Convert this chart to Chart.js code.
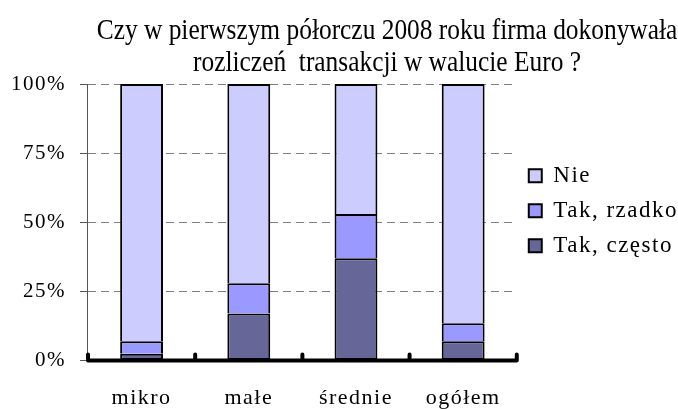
<!DOCTYPE html>
<html>
<head>
<meta charset="utf-8">
<script src="https://cdn.jsdelivr.net/npm/chart.js@4.4.1/dist/chart.umd.min.js"></script>
<style>
  html, body { margin: 0; padding: 0; background: #fff; }
  #wrap { width: 678px; height: 409px; }
</style>
</head>
<body>
<div id="wrap"><canvas id="chart" width="678" height="409"></canvas></div>
<script>
// data (percent of firms)
const categories = ["mikro", "małe", "średnie", "ogółem"];
const takCzesto = [2.5, 17, 37, 7];
const takRzadko = [4.5, 11, 16, 6.5];
const nie = [93, 72, 47, 86.5];
const yTicks = [0, 25, 50, 75, 100];
const titleLines = ["Czy w pierwszym półorczu 2008 roku firma dokonywała", "rozliczeń  transakcji w walucie Euro ?"];

const FONT = "'Liberation Serif', 'Times New Roman', serif";
Chart.defaults.font.family = FONT;
Chart.defaults.color = "#000";

// the original text is set a bit loose, so widen the letters on the canvas
const spacingPlugin = {
    id: "spacing",
    afterInit(chart) { chart.ctx.letterSpacing = "1.5px"; },
    beforeUpdate(chart) { chart.ctx.letterSpacing = "1.5px"; },
    beforeDraw(chart) { chart.ctx.letterSpacing = "1.5px"; }
};

// title: tall, slightly narrowed letters, centred right of the y axis
const titlePlugin = {
    id: "titleLines",
    afterDraw(chart) {
        const ctx = chart.ctx;
        const sx = 0.876;
        const cx = 387;
        ctx.save();
        ctx.letterSpacing = "0px";
        ctx.font = "29px " + FONT;
        ctx.fillStyle = "#000";
        ctx.textAlign = "center";
        ctx.textBaseline = "alphabetic";
        ctx.scale(sx, 1);
        titleLines.forEach((line, i) => ctx.fillText(line, cx / sx, 39 + i * 32));
        ctx.restore();
    }
};

// thick black base line with knobs at the category boundaries
const baseAxisPlugin = {
    id: "baseAxis",
    afterDatasetsDraw(chart) {
        const ctx = chart.ctx;
        const x = chart.scales.x;
        const y0 = chart.scales.y.getPixelForValue(0);
        const half = (x.getPixelForValue(1) - x.getPixelForValue(0)) / 2;
        ctx.save();
        ctx.strokeStyle = "#000";
        ctx.lineWidth = 4;
        ctx.lineCap = "round";
        ctx.beginPath();
        ctx.moveTo(chart.chartArea.left, y0);
        ctx.lineTo(chart.chartArea.right, y0);
        for (let i = 0; i <= categories.length; i++) {
            const px = x.getPixelForValue(0) - half + i * 2 * half;
            ctx.moveTo(px, y0);
            ctx.lineTo(px, y0 - 6);
        }
        ctx.stroke();
        ctx.restore();
    }
};

function bar(label, data, color, skip) {
    return {
        label: label,
        data: data,
        backgroundColor: color,
        borderColor: "#000",
        borderWidth: 2,
        borderSkipped: skip,
        barPercentage: 0.4,
        categoryPercentage: 1
    };
}

new Chart(document.getElementById("chart"), {
    type: "bar",
    data: {
        labels: categories,
        datasets: [
            bar("Tak, często", takCzesto, "#666699", false),
            bar("Tak, rzadko", takRzadko, "#9999FF", "start"),
            bar("Nie", nie, "#CCCCFF", "start")
        ]
    },
    options: {
        responsive: false,
        animation: false,
        layout: { padding: { top: 84, bottom: -26, left: -3, right: -10 } },
        scales: {
            x: {
                stacked: true,
                grid: { display: false, drawTicks: false },
                border: { display: false },
                ticks: { font: { size: 22 }, padding: 24 }
            },
            y: {
                stacked: true,
                min: 0,
                max: 100,
                afterBuildTicks(scale) { scale.ticks = yTicks.map(v => ({ value: v })); },
                grid: { color: "#808080", lineWidth: 1, tickLength: 8, tickColor: "#555" },
                border: { color: "#555", width: 1, dash: [8, 5] },
                ticks: { font: { size: 21 }, padding: 14, callback: v => v + "%" }
            }
        },
        plugins: {
            title: { display: false },
            tooltip: { enabled: false },
            legend: {
                position: "right",
                reverse: true,
                fullSize: false,
                align: "start",
                title: { display: true, text: " ", font: { size: 1 }, padding: { top: 0, bottom: 67 } },
                labels: { font: { size: 23 }, boxWidth: 13, boxHeight: 13, padding: 12 }
            }
        }
    },
    plugins: [spacingPlugin, titlePlugin, baseAxisPlugin]
});
</script>
</body>
</html>
